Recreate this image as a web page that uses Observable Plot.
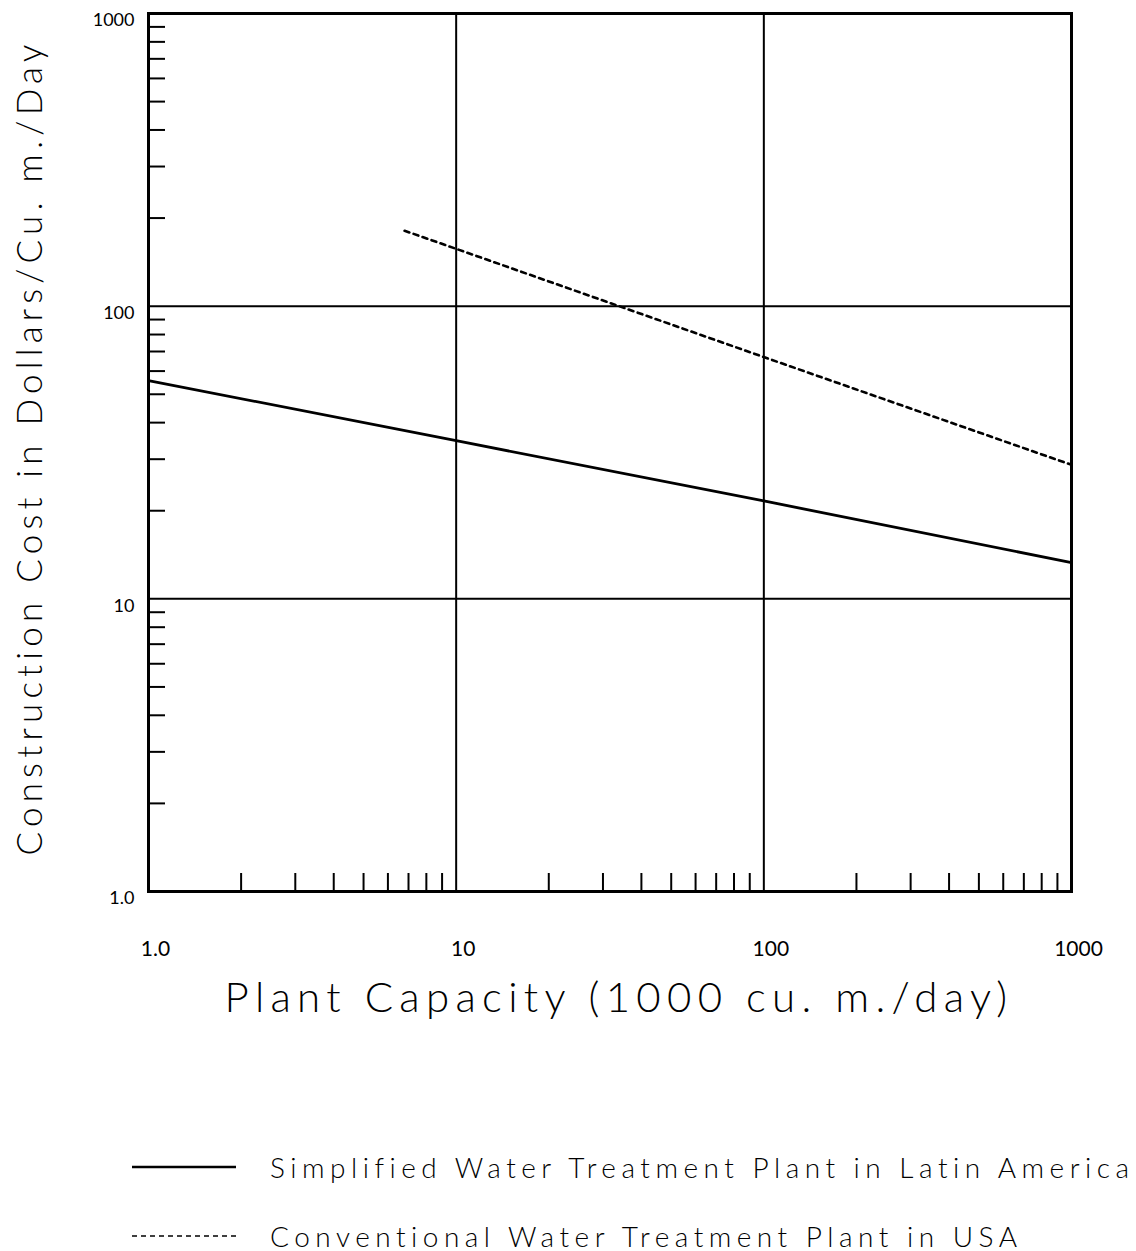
<!DOCTYPE html>
<html>
<head>
<meta charset="utf-8">
<script src="https://cdn.jsdelivr.net/npm/d3@7"></script>
<script src="https://cdn.jsdelivr.net/npm/@observablehq/plot@0.6"></script>
<style>
  html, body { margin: 0; padding: 0; background: #fff; }
  #chart { position: relative; width: 1136px; }
  #chart .xtitle text { letter-spacing: 6.3px; }
  #chart .ytitle text { letter-spacing: 5.2px; }
  #legend { position: relative; width: 1136px; height: 191px; font-family: Lato, "DejaVu Sans", sans-serif; font-weight: 300; }
  .row { position: absolute; left: 132px; height: 40px; display: flex; align-items: center; white-space: nowrap; }
  .row svg { flex: none; }
  .row span { margin-left: 34px; font-size: 28px; letter-spacing: 5.5px; color: #000; }
</style>
</head>
<body>
<div id="chart"></div>
<div id="legend"></div>
<script>
// ---- Data ----
const capacityTicks = [1, 10, 100, 1000];
const capacityLabels = ["1.0", "10", "100", "1000"];
const costTicks = [1, 10, 100, 1000];
const costLabels = ["1.0", "10", "100", "1000"];
const gridValues = [10, 100];
const minorTicks = [2, 3, 4, 5, 6, 7, 8, 9, 20, 30, 40, 50, 60, 70, 80, 90, 200, 300, 400, 500, 600, 700, 800, 900];

const latinCapacity = [1, 10, 100, 1000];
const latinCost = [55.7, 34.7, 21.6, 13.3];
const usaCapacity = [6.8, 10, 100, 1000];
const usaCost = [181, 157, 67, 28.7];

const seriesNames = [
  "Simplified Water Treatment Plant in Latin America",
  "Conventional Water Treatment Plant in USA"
];
const xTitle = "Plant Capacity (1000 cu. m./day)";
const yTitle = "Construction Cost in Dollars/Cu. m./Day";

// ---- Layout ----
const W = 1136, H = 1060;
const mL = 148, mR = 65, mT = 13, mB = H - 891;
const plotW = W - mL - mR, plotH = H - mT - mB;

const latin = latinCapacity.map((c, i) => ({capacity: c, cost: latinCost[i]}));
const usa = usaCapacity.map((c, i) => ({capacity: c, cost: usaCost[i]}));

const chart = Plot.plot({
  width: W,
  height: H,
  marginLeft: mL,
  marginRight: mR,
  marginTop: mT,
  marginBottom: mB,
  style: {fontFamily: "Lato, 'DejaVu Sans', sans-serif", background: "#fff", color: "#000"},
  x: {type: "log", domain: [1, 1000]},
  y: {type: "log", domain: [1, 1000]},
  marks: [
    Plot.ruleX(gridValues, {x: d => d, stroke: "#000", strokeWidth: 2}),
    Plot.ruleY(gridValues, {y: d => d, stroke: "#000", strokeWidth: 2}),
    Plot.tickX(minorTicks, {x: d => d, stroke: "#000", strokeWidth: 2, insetTop: plotH - 18}),
    Plot.tickY(minorTicks, {y: d => d, stroke: "#000", strokeWidth: 2, insetRight: plotW - 17}),
    Plot.line(latin, {x: "capacity", y: "cost", stroke: "#000", strokeWidth: 2.8}),
    Plot.line(usa, {x: "capacity", y: "cost", stroke: "#000", strokeWidth: 2.6, strokeDasharray: "5,4.5"}),
    Plot.frame({stroke: "#000", strokeWidth: 3}),
    Plot.axisX(capacityTicks, {
      anchor: "bottom", tickSize: 0, tickPadding: 50, fontSize: 21, fontWeight: 400, dx: 7,
      tickFormat: d => capacityLabels[capacityTicks.indexOf(d)], label: null
    }),
    Plot.axisY(costTicks, {
      anchor: "left", tickSize: 0, tickPadding: 14, fontSize: 18, dy: 7,
      tickFormat: d => costLabels[costTicks.indexOf(d)], label: null
    }),
    Plot.text([xTitle], {frameAnchor: "bottom", textAnchor: "middle", lineAnchor: "middle", dy: 107, dx: 9, fontSize: 42, fontWeight: 300, className: "xtitle"}),
    Plot.text([yTitle], {frameAnchor: "left", textAnchor: "middle", lineAnchor: "middle", rotate: -90, dx: -118, dy: -5, fontSize: 35, fontWeight: 300, className: "ytitle"})
  ]
});
document.getElementById("chart").appendChild(chart);

// ---- Legend ----
const legend = d3.select("#legend");
const rowCenters = [107, 176];
seriesNames.forEach((name, i) => {
  const row = legend.append("div").attr("class", "row").style("top", (rowCenters[i] - 20) + "px");
  const sw = row.append("svg").attr("width", 104).attr("height", 10);
  sw.append("line").attr("x1", 0).attr("x2", 104).attr("y1", 5).attr("y2", 5)
    .attr("stroke", "#000").attr("stroke-width", i === 0 ? 2.6 : 1.6)
    .attr("stroke-dasharray", i === 0 ? null : "5,4");
  row.append("span").text(name);
});
</script>
</body>
</html>
